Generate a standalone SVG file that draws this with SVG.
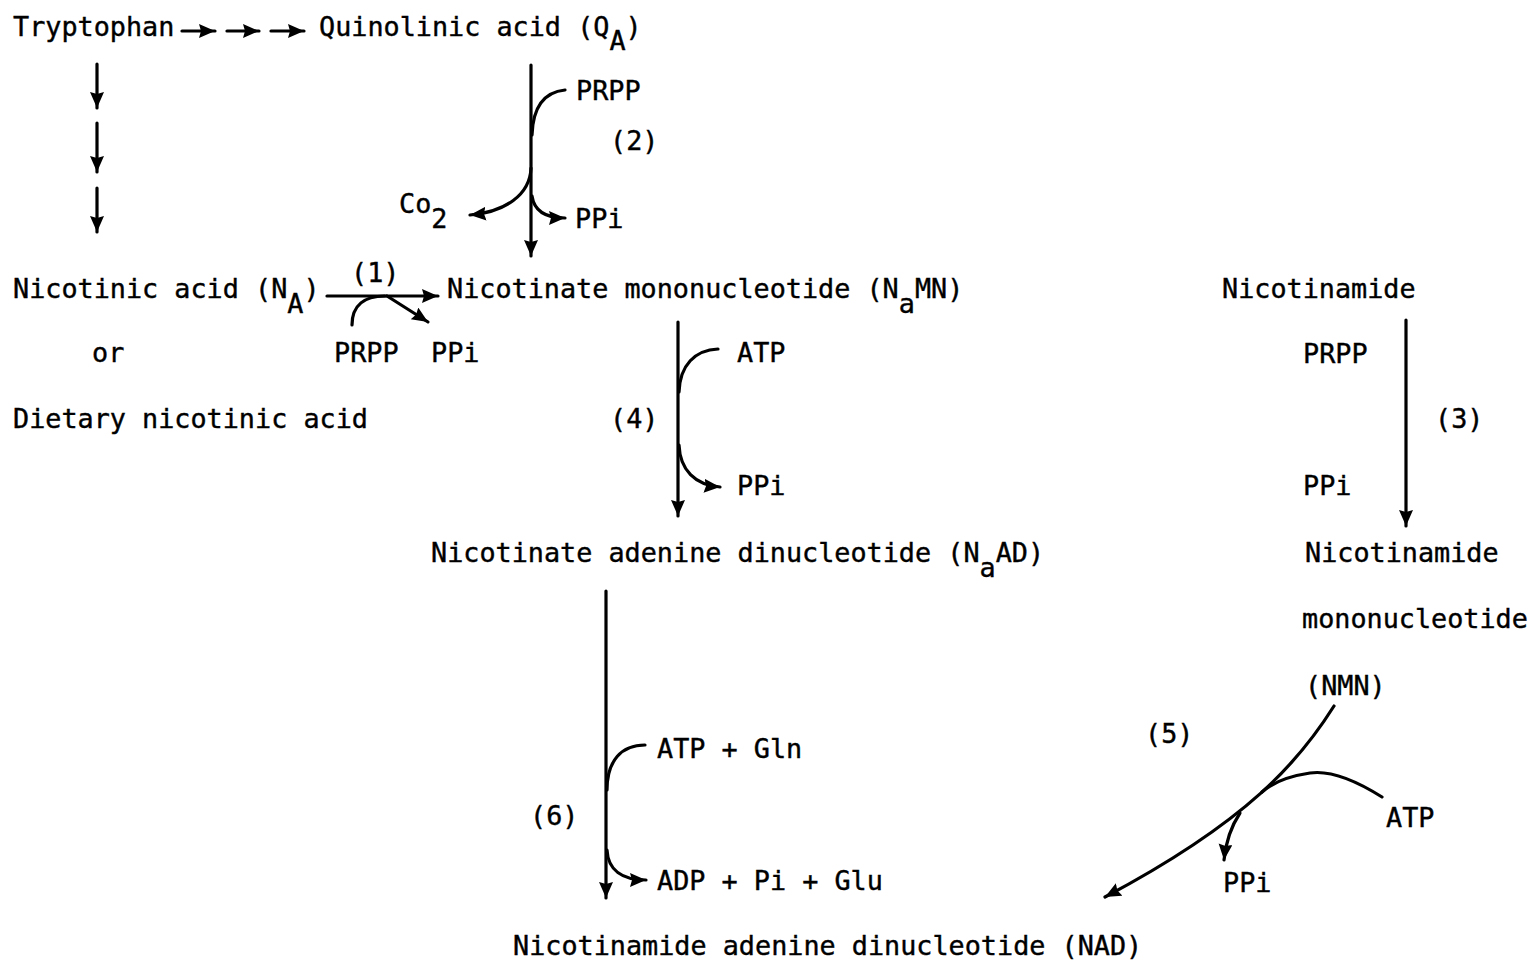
<svg xmlns="http://www.w3.org/2000/svg" width="1539" height="962" viewBox="0 0 1539 962">
<style>
text{font-family:"DejaVu Sans Mono","Liberation Mono",monospace;font-size:26.8px;fill:#000;stroke:#000;stroke-width:0.4}
.c{fill:none;stroke:#000;stroke-width:3.2;stroke-linecap:round}
</style>
<defs>
<marker id="ah" markerUnits="userSpaceOnUse" markerWidth="18" markerHeight="16" refX="16" refY="7" orient="auto">
<path d="M0,0 L16,7 L0,14 L2,7 z" fill="#000"/>
</marker>
</defs>
<rect width="1539" height="962" fill="#fff"/>
<g id="tryptophan"><text x="13" y="36">Tryptophan</text></g>
<g id="quinolinic"><text x="319" y="36">Quinolinic acid (Q<tspan dy="14">A</tspan><tspan dy="-14">)</tspan></text></g>
<g id="nicotinic"><text x="13" y="298">Nicotinic acid (N<tspan dy="15">A</tspan><tspan dy="-15">)</tspan></text>
<text x="92" y="362">or</text>
<text x="13" y="428">Dietary nicotinic acid</text></g>
<g id="namn"><text x="447" y="298">Nicotinate mononucleotide (N<tspan dy="15">a</tspan><tspan dy="-15">MN)</tspan></text></g>
<g id="naad"><text x="431" y="562">Nicotinate adenine dinucleotide (N<tspan dy="15">a</tspan><tspan dy="-15">AD)</tspan></text></g>
<g id="nad"><text x="513" y="955">Nicotinamide adenine dinucleotide (NAD)</text></g>
<g id="nicotinamide"><text x="1222" y="298">Nicotinamide</text></g>
<g id="nmn"><text x="1305" y="562">Nicotinamide</text>
<text x="1302" y="628">mononucleotide</text>
<text x="1305" y="695">(NMN)</text></g>
<g id="labels">
<text x="576" y="100">PRPP</text>
<text x="610" y="150">(2)</text>
<text x="399" y="213">Co<tspan dy="15">2</tspan></text>
<text x="575" y="228">PPi</text>
<text x="351" y="282">(1)</text>
<text x="334" y="362">PRPP</text>
<text x="431" y="362">PPi</text>
<text x="737" y="362">ATP</text>
<text x="610" y="428">(4)</text>
<text x="737" y="495">PPi</text>
<text x="1303" y="363">PRPP</text>
<text x="1435" y="428">(3)</text>
<text x="1303" y="495">PPi</text>
<text x="657" y="758">ATP + Gln</text>
<text x="530" y="825">(6)</text>
<text x="657" y="890">ADP + Pi + Glu</text>
<text x="1145" y="743">(5)</text>
<text x="1386" y="827">ATP</text>
<text x="1223" y="892">PPi</text>
</g>
<g id="connectors">
<path class="c" d="M182,31 L215,31" marker-end="url(#ah)"/>
<path class="c" d="M227,31 L259,31" marker-end="url(#ah)"/>
<path class="c" d="M271,31 L304,31" marker-end="url(#ah)"/>
<path class="c" d="M97,64 L97,108" marker-end="url(#ah)"/>
<path class="c" d="M97,123 L97,172" marker-end="url(#ah)"/>
<path class="c" d="M97,188 L97,232" marker-end="url(#ah)"/>
<path class="c" d="M531,65 L531,256" marker-end="url(#ah)"/>
<path class="c" d="M565,90 C545,92 533,105 532,135"/>
<path class="c" d="M531,168 C530,195 505,212 470,215" marker-end="url(#ah)"/>
<path class="c" d="M532,196 C534,210 545,218 565,218" marker-end="url(#ah)"/>
<path class="c" d="M327,296 L438,296" marker-end="url(#ah)"/>
<path class="c" d="M352,325 C352,305 365,296 385,296"/>
<path class="c" d="M387,296 L428,322" marker-end="url(#ah)"/>
<path class="c" d="M678,322 L678,516" marker-end="url(#ah)"/>
<path class="c" d="M718,349 C695,350 680,365 679,392"/>
<path class="c" d="M679,445 C680,470 695,485 720,487" marker-end="url(#ah)"/>
<path class="c" d="M606,591 L606,898" marker-end="url(#ah)"/>
<path class="c" d="M645,745 C622,745 607,760 607,790"/>
<path class="c" d="M607,850 C608,870 622,880 646,880" marker-end="url(#ah)"/>
<path class="c" d="M1406,320 L1406,526" marker-end="url(#ah)"/>
<path class="c" d="M1334,706 C1300,760 1250,820 1105,897" marker-end="url(#ah)"/>
<path class="c" d="M1382,797 C1355,780 1330,770 1310,773 C1290,776 1272,783 1262,792"/>
<path class="c" d="M1240,813 C1232,825 1226,840 1224,860" marker-end="url(#ah)"/>
</g>
</svg>
